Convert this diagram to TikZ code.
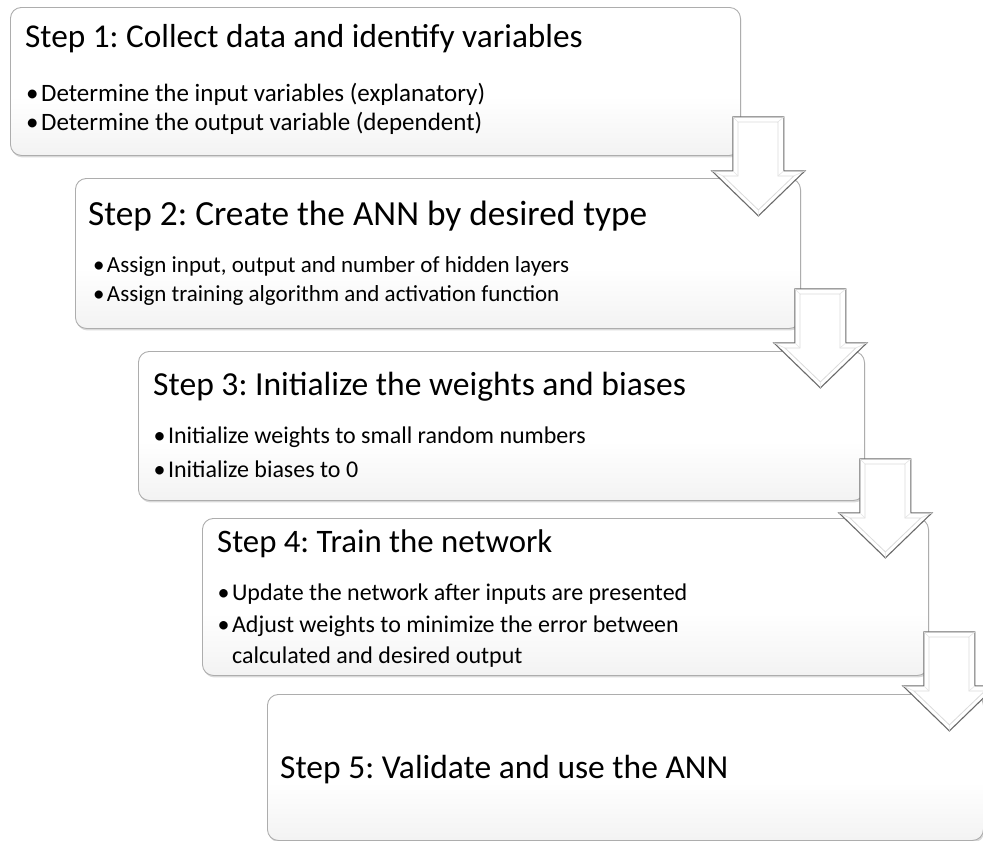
\documentclass[tikz,border=0pt]{standalone}
\usepackage{fontspec}
\setmainfont{Carlito}
\usetikzlibrary{positioning,shadows}
\frenchspacing

\pgfdeclareverticalshading{stepshade}{100bp}{color(0bp)=(black!13); color(20bp)=(black!6);
  color(45bp)=(white); color(100bp)=(white)}

\tikzset{
  stepbox/.style={draw=black!32, line width=0.9pt, rounded corners=11pt,
    shading=stepshade,
    drop shadow={shadow xshift=1pt, shadow yshift=-2pt, opacity=0.3},
    anchor=north west, inner sep=0pt},
  steptitle/.style={anchor=base west, inner sep=0pt,
    font=\fontsize{#1}{34}\selectfont},
  stepline/.style={anchor=base west, inner sep=0pt,
    font=\fontsize{#1}{24}\selectfont},
  downarrow/.pic={
    % outer shape
    \filldraw[fill=white, draw=black!58, line width=1.1pt, line join=miter]
      (0,0) -- (51,0) -- (51,54) -- (72,54) -- (25.5,99) -- (-21,54) -- (0,54) -- cycle;
    % bevel
    \draw[black!14, line width=0.8pt]
      (5,5) -- (45,5) -- (45,59) -- (61,59) -- (25.5,93) -- (-10,59) -- (5,59) -- cycle;
    \draw[black!10, line width=0.6pt]
      (0,0) -- (5,5) (51,0) -- (45,5) (51,54) -- (45,59)
      (72,54) -- (61,59) (25.5,99) -- (25.5,93) (-21,54) -- (-10,59) (0,54) -- (5,59);
  }
}
\newcommand\bul{\makebox[0.6em][l]{•}}

\begin{document}
\begin{tikzpicture}[x=1pt, y=-1pt]
  \useasboundingbox (0,0) rectangle (983,841);

  % Boxes
  \node[stepbox, minimum width=730pt, minimum height=148pt] (s1) at (10,7) {};
  \node[stepbox, minimum width=725pt, minimum height=150pt] (s2) at (75,178) {};
  \node[stepbox, minimum width=726pt, minimum height=149pt] (s3) at (138,351) {};
  \node[stepbox, minimum width=726pt, minimum height=157pt] (s4) at (202,518) {};
  \node[stepbox, minimum width=716pt, minimum height=146pt] (s5) at (267,694) {};

  % Step 1
  \node[steptitle=33.3] (t1) at ([xshift=15pt, yshift=-40pt]s1.north west)
    {Step 1: Collect data and identify variables};
  \node[stepline=25] (l11) at ([xshift=16pt, yshift=-94pt]s1.north west)
    {\bul Determine the input variables (explanatory)};
  \node[stepline=25] (l12) at ([yshift=-29pt]l11.base west)
    {\bul Determine the output variable (dependent)};

  % Step 2
  \node[steptitle=35.3] (t2) at ([xshift=13pt, yshift=-47pt]s2.north west)
    {Step 2: Create the ANN by desired type};
  \node[stepline=23] (l21) at ([xshift=18pt, yshift=-94pt]s2.north west)
    {\bul Assign input, output and number of hidden layers};
  \node[stepline=23] (l22) at ([yshift=-29pt]l21.base west)
    {\bul Assign training algorithm and activation function};

  % Step 3
  \node[steptitle=33.6] (t3) at ([xshift=15pt, yshift=-44pt]s3.north west)
    {Step 3: Initialize the weights and biases};
  \node[stepline=24] (l31) at ([xshift=15.5pt, yshift=-92pt]s3.north west)
    {\bul Initialize weights to small random numbers};
  \node[stepline=24] (l32) at ([yshift=-34pt]l31.base west)
    {\bul Initialize biases to 0};

  % Step 4
  \node[steptitle=32.8] (t4) at ([xshift=15pt, yshift=-34pt]s4.north west)
    {Step 4: Train the network};
  \node[stepline=24] (l41) at ([xshift=15.5pt, yshift=-82pt]s4.north west)
    {\bul Update the network after inputs are presented};
  \node[stepline=24] (l42) at ([yshift=-32pt]l41.base west)
    {\bul Adjust weights to minimize the error between};
  \node[stepline=24] (l43) at ([yshift=-31pt]l42.base west)
    {\hspace*{0.6em}calculated and desired output};

  % Step 5
  \node[steptitle=33.5] (t5) at ([xshift=13pt, yshift=-84pt]s5.north west)
    {Step 5: Validate and use the ANN};

  % Arrows between steps
  \pic (a1) at ([xshift=-8pt, yshift=39pt]s1.south east) {downarrow};
  \pic (a2) at ([xshift=-6pt, yshift=40pt]s2.south east) {downarrow};
  \pic (a3) at ([xshift=-5pt, yshift=42pt]s3.south east) {downarrow};
  \pic (a4) at ([xshift=-5pt, yshift=44pt]s4.south east) {downarrow};
\end{tikzpicture}
\end{document}
